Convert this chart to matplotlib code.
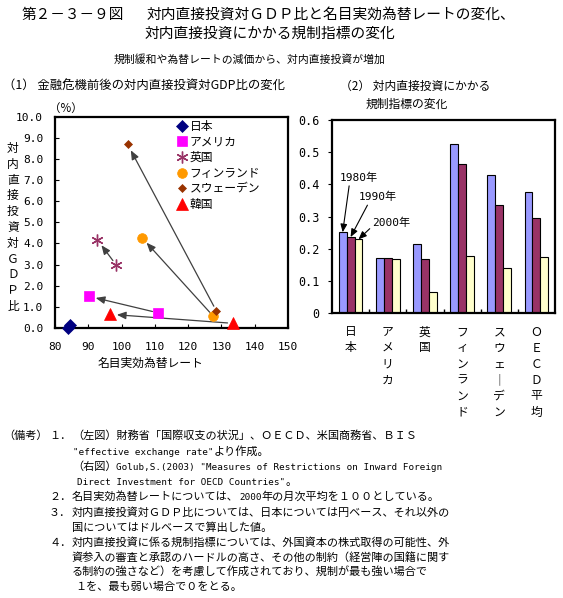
import matplotlib
matplotlib.use('Agg')
import matplotlib.pyplot as plt
import numpy as np

JP = ['Noto Sans CJK JP', 'DejaVu Sans']
MONO = ['DejaVu Sans Mono', 'Noto Sans CJK JP']
plt.rcParams['font.family'] = JP

# ---------------- data ----------------
countries = ['日本', 'アメリカ', '英国', 'フィンランド', 'スウェーデン', '韓国']
rate_before = [84.6, 110.9, 98.4, 127.6, 128.5, 133.5]
fdi_before = [0.12, 0.72, 2.98, 0.55, 0.80, 0.22]
rate_after = [83.8, 90.2, 92.7, 106.1, 101.8, 96.5]
fdi_after = [0.02, 1.50, 4.18, 4.28, 8.70, 0.65]
draw_arrow = [False, True, True, True, True, True]

x_ticks = [80, 90, 100, 110, 120, 130, 140, 150]
y_ticks = [0, 1, 2, 3, 4, 5, 6, 7, 8, 9, 10]

bar_categories = ['日本', 'アメリカ', '英国', 'フィンランド', 'スウェーデン', 'ＯＥＣＤ平均']
years = ['1980年', '1990年', '2000年']
reg_1980 = [0.251, 0.170, 0.214, 0.524, 0.429, 0.376]
reg_1990 = [0.236, 0.170, 0.167, 0.464, 0.335, 0.295]
reg_2000 = [0.229, 0.167, 0.064, 0.177, 0.139, 0.173]
bar_y_ticks = [0, 0.1, 0.2, 0.3, 0.4, 0.5, 0.6]

# ---------------- styles ----------------
mstyles = [
    dict(marker='D', color='#000080', ms=6.5),
    dict(marker='s', color='#FF00FF', ms=7),
    dict(marker=(6, 2, 0), color='#993366', ms=8.5, mew=1.0),
    dict(marker='o', color='#FF9900', ms=7),
    dict(marker='D', color='#993300', ms=4.5),
    dict(marker='^', color='#FF0000', ms=8),
]
bar_colors = ['#9999FF', '#993366', '#FFFFCC']

W, H = 563, 598
fig = plt.figure(figsize=(W / 100, H / 100), dpi=100)


def fx(px):
    return px / W


def fy(py):
    return 1 - py / H


bg = fig.add_axes([0, 0, 1, 1])
bg.set_axis_off()
bg.set_xlim(0, 1)
bg.set_ylim(0, 1)

# ---------------- titles ----------------
fig.text(fx(22), fy(15), '第２－３－９図', size=10.5, va='center', ha='left')
fig.text(fx(147), fy(15), '対内直接投資対ＧＤＰ比と名目実効為替レートの変化、',
         size=10.6, va='center', ha='left')
fig.text(fx(145), fy(34), '対内直接投資にかかる規制指標の変化', size=10.6,
         va='center', ha='left')
fig.text(fx(250), fy(59), '規制緩和や為替レートの減価から、対内直接投資が増加',
         size=7.8, va='center', ha='center')
fig.text(fx(3), fy(86), '（1） 金融危機前後の対内直接投資対GDP比の変化',
         size=8.9, va='center', ha='left')
fig.text(fx(340), fy(86), '（2） 対内直接投資にかかる', size=8.5, va='center', ha='left')
fig.text(fx(366), fy(104), '規制指標の変化', size=8.5, va='center', ha='left')
fig.text(fx(49), fy(108), '（%）', size=8.3, va='center', ha='left')

# ---------------- left chart ----------------
ax1 = fig.add_axes([fx(55), fy(328), fx(288) - fx(55), (328 - 116.7) / H])
for i, name in enumerate(countries):
    st = mstyles[i]
    ax1.plot([rate_before[i], rate_after[i]], [fdi_before[i], fdi_after[i]],
             linestyle='none', marker=st['marker'], color=st['color'],
             markersize=st['ms'], markeredgewidth=st.get('mew', 0.5),
             markeredgecolor=st['color'], label=name, zorder=3, clip_on=False)
    if draw_arrow[i]:
        ax1.annotate('', xy=(rate_after[i], fdi_after[i]),
                     xytext=(rate_before[i], fdi_before[i]),
                     arrowprops=dict(arrowstyle='-|>,head_length=0.6,head_width=0.25',
                                     color='#404040', lw=0.9, shrinkA=4, shrinkB=5,
                                     mutation_scale=9), zorder=2)
ax1.set_xlim(80, 150)
ax1.set_ylim(0, 10)
ax1.set_xticks(x_ticks, [str(v) for v in x_ticks], fontfamily=MONO, fontsize=8)
ax1.set_yticks(y_ticks, ['%.1f' % v for v in y_ticks], fontfamily=MONO, fontsize=8)
ax1.tick_params(axis='x', direction='in', length=3, pad=10)
ax1.tick_params(axis='y', direction='in', length=3, pad=8.5)
for sp in ax1.spines.values():
    sp.set_linewidth(1.6)
leg = ax1.legend(loc='upper left', bbox_to_anchor=(0.52, 0.985), frameon=False,
                 borderpad=0, borderaxespad=0, handlelength=1.0, handletextpad=0.15,
                 labelspacing=0.22, fontsize=8.5, numpoints=1)

fig.text(fx(150), fy(363), '名目実効為替レート', size=8.5, va='center', ha='center')
fig.text(fx(13), fy(227.5), '\n'.join('対内直接投資対ＧＤＰ比'), size=8.5,
         va='center', ha='center', linespacing=1.28)

# ---------------- right chart ----------------
ax2 = fig.add_axes([fx(332), fy(313), fx(555) - fx(332), (313 - 120) / H])
xpos = np.arange(len(bar_categories))
bw = 0.213
for k, vals in enumerate([reg_1980, reg_1990, reg_2000]):
    ax2.bar(xpos + (k - 1) * bw, vals, width=bw, color=bar_colors[k],
            edgecolor='black', linewidth=0.8, zorder=2)
ax2.set_xlim(-0.5, len(bar_categories) - 0.5)
ax2.set_ylim(0, 0.6)
ax2.set_yticks(bar_y_ticks, ['0' if v == 0 else '%.1f' % v for v in bar_y_ticks],
               fontfamily=MONO, fontsize=8.5)
ax2.tick_params(axis='y', direction='out', length=3, pad=6)


def vert(s):
    return '\n'.join(s.replace('ー', '｜'))


ax2.set_xticks(xpos, [vert(c) for c in bar_categories], fontsize=8.5,
               linespacing=1.3, va='top')
ax2.set_xticks(xpos[:-1] + 0.5, minor=True)
ax2.tick_params(axis='x', which='major', length=0, pad=9)
ax2.tick_params(axis='x', which='minor', direction='in', length=3, width=1)
for sp in ax2.spines.values():
    sp.set_linewidth(1.6)

# year annotations on Japan bars
ann_text_pos = [(-0.285, 0.42), (0.226, 0.36), (0.59, 0.28)]
ann_relpos = [(0.25, 0.0), (0.26, 0.0), (0.0, 0.2)]
for k, vals in enumerate([reg_1980, reg_1990, reg_2000]):
    ax2.annotate(years[k], xy=(xpos[0] + (k - 1) * bw, vals[0]),
                 xytext=ann_text_pos[k], textcoords='data',
                 fontfamily=MONO, fontsize=8, va='center', ha='left',
                 arrowprops=dict(arrowstyle='-|>,head_length=0.6,head_width=0.25',
                                 color='black', lw=0.8, shrinkA=0, shrinkB=0,
                                 mutation_scale=8, relpos=ann_relpos[k]),
                 zorder=4)


# ---------------- notes ----------------
def seg_text(xpx, ypx, segs, size=8, mono_size=6.7):
    yb = fy(ypx + 4)
    prev = None
    for txt, mono in segs:
        fam = MONO if mono else JP
        sz = mono_size if mono else size
        if prev is None:
            prev = fig.text(fx(xpx), yb, txt, family=fam, size=sz,
                            va='baseline', ha='left')
        else:
            prev = bg.annotate(txt, xy=(1, yb), xycoords=(prev, 'figure fraction'),
                               family=fam, size=sz, va='baseline', ha='left')


notes = [
    (3, 435, [('（備考）', 0)]),
    (49, 435, [('１．', 0)]),
    (72, 435, [('（左図）財務省「国際収支の状況」、ＯＥＣＤ、米国商務省、ＢＩＳ', 0)]),
    (73, 451, [('"effective exchange rate"', 1), ('より作成。', 0)]),
    (72, 466, [('（右図）', 0), ('Golub,S.(2003) "Measures of Restrictions on Inward Foreign', 1)]),
    (77, 481, [('Direct Investment for OECD Countries"', 1), ('。', 0)]),
    (49, 496, [('２．', 0)]),
    (72, 496, [('名目実効為替レートについては、', 0), ('2000', 1), ('年の月次平均を１００としている。', 0)]),
    (49, 512, [('３．', 0)]),
    (72, 512, [('対内直接投資対ＧＤＰ比については、日本については円ベース、それ以外の', 0)]),
    (72, 527, [('国についてはドルベースで算出した値。', 0)]),
    (49, 542, [('４．', 0)]),
    (72, 542, [('対内直接投資に係る規制指標については、外国資本の株式取得の可能性、外', 0)]),
    (72, 557, [('資参入の審査と承認のハードルの高さ、その他の制約（経営陣の国籍に関す', 0)]),
    (72, 571, [('る制約の強さなど）を考慮して作成されており、規制が最も強い場合で', 0)]),
    (75, 586, [('１を、最も弱い場合で０をとる。', 0)]),
]
for xp, yp, segs in notes:
    seg_text(xp, yp, segs)

fig.savefig('out.png', dpi=100)
